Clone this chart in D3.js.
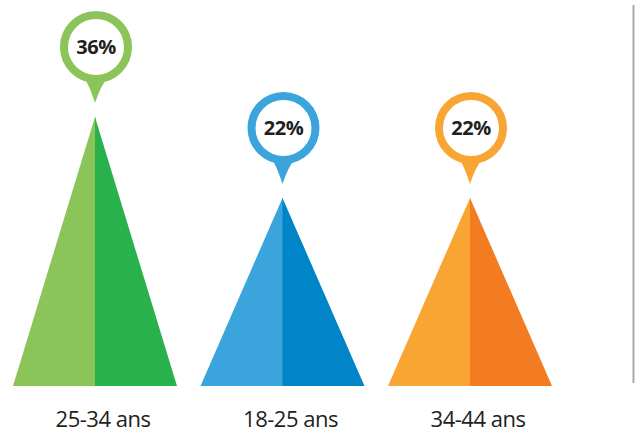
<!DOCTYPE html>
<html><head><meta charset="utf-8">
<script src="https://cdn.jsdelivr.net/npm/d3@7"></script>
<style>html,body{margin:0;padding:0;background:#fff;}</style>
</head><body>
<svg id="chart" width="635" height="434"></svg>
<script>
const categories = ["25-34 ans", "18-25 ans", "34-44 ans"];
const values = [36, 22, 22];
const labels = ["36%", "22%", "22%"];
const lightColors = ["#8bc459", "#3ba4dc", "#f9a533"];
const darkColors = ["#29b24b", "#0085c8", "#f37b22"];

const svg = d3.select("#chart");
const baseY = 386;
const x = d3.scalePoint().domain(categories).range([95, 470]);
const y = d3.scaleLinear().domain([-10.5, 36]).range([baseY, 117]);
const halfW = 82;

const g = svg.selectAll("g.item").data(categories).join("g").attr("class", "item");

g.append("path").attr("fill", (d, i) => lightColors[i])
  .attr("d", (d, i) => {
    const cx = x(d), top = y(values[i]);
    return `M${cx - halfW},${baseY}L${cx},${top}L${cx + 0.5},${top}L${cx + 0.5},${baseY}Z`;
  });
g.append("path").attr("fill", (d, i) => darkColors[i])
  .attr("d", (d, i) => {
    const cx = x(d), top = y(values[i]);
    return `M${cx},${baseY}L${cx},${top}L${cx + halfW},${baseY}Z`;
  });

// pins
const R = 36, sw = 8;
g.each(function(d, i) {
  const sel = d3.select(this);
  const cx = x(d) + 1;
  const tip = y(values[i]) - 14;
  const cy = tip - 56;
  sel.append("path").attr("fill", lightColors[i])
    .attr("d", `M${cx - 13},${cy + R - 8}Q${cx - 6},${cy + R + 4} ${cx - 1},${tip}Q${cx + 4},${cy + R + 4} ${cx + 13},${cy + R - 8}Z`);
  sel.append("circle").attr("cx", cx).attr("cy", cy).attr("r", R - sw / 2)
    .attr("fill", "#fff").attr("stroke", lightColors[i]).attr("stroke-width", sw);
  sel.append("text").attr("x", cx).attr("y", cy + 7)
    .attr("text-anchor", "middle")
    .attr("font-family", "'Open Sans', sans-serif").attr("font-weight", 700)
    .attr("font-size", 20).attr("letter-spacing", -0.5).attr("fill", "#231f20")
    .text(labels[i]);
  sel.append("text").attr("x", x(d) + 8).attr("y", 427)
    .attr("text-anchor", "middle")
    .attr("font-family", "'Open Sans', sans-serif")
    .attr("font-size", 22).attr("letter-spacing", -0.5).attr("fill", "#231f20")
    .text(d);
});

svg.append("line").attr("x1", 633.5).attr("x2", 633.5).attr("y1", 5).attr("y2", 383)
  .attr("stroke", "#aaaaa5").attr("stroke-width", 2);
</script>
</body></html>
